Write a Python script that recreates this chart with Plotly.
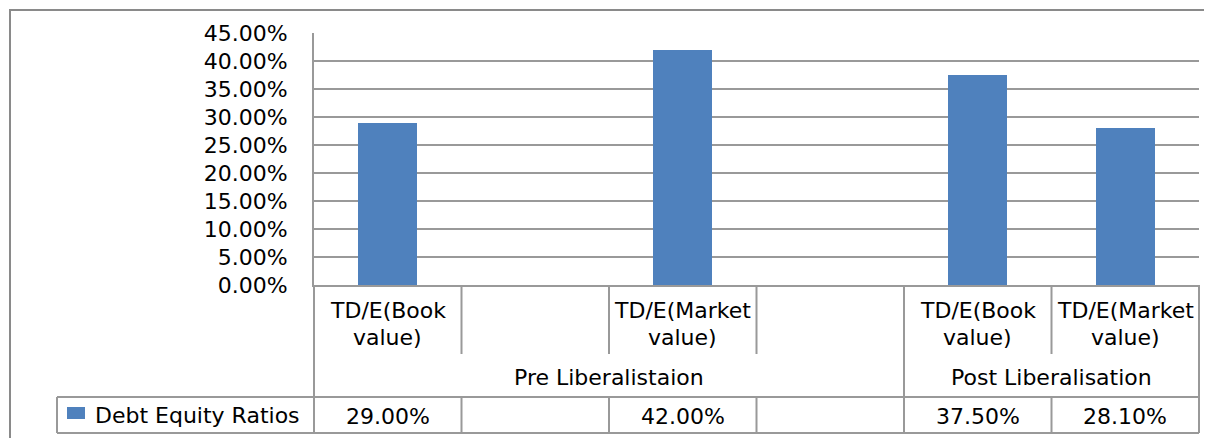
import plotly.graph_objects as go

# ---------------- data ----------------
categories = ["TD/E(Book value)", "", "TD/E(Market value)", "", "TD/E(Book value)", "TD/E(Market value)"]
groups = ["Pre Liberalistaion", "Post Liberalisation"]
group_sizes = [4, 2]
values = [0.29, None, 0.42, None, 0.375, 0.281]
series_name = "Debt Equity Ratios"
y_ticks = [0, 0.05, 0.10, 0.15, 0.20, 0.25, 0.30, 0.35, 0.40, 0.45]

# ---------------- layout constants (page pixels) ----------------
OFF = 8  # default body margin of the html page
W, H = 1212 - OFF, 438 - OFF
L, R, T, B = 314 - OFF, 1199 - OFF, 33 - OFF, 285 - OFF
ROW1_B, ROW2_B, ROW3_B = 354 - OFF, 397 - OFF, 433 - OFF
LEG_L = 57 - OFF
FONT = "DejaVu Sans"
FS = 22
LINE = "#999999"
BAR = "#4f81bd"

n = len(categories)


def px_x(px):
    return (px - L) / (R - L)


def px_y(py):
    return (B - py) / (B - T)


def gx(px):  # page pixel -> paper x
    return px_x(px - OFF)


def gy(py):  # page pixel -> paper y
    return px_y(py - OFF)


fig = go.Figure()
fig.add_trace(go.Bar(
    x=list(range(n)), y=values, width=0.4, marker=dict(color=BAR, line=dict(width=0)),
    name=series_name, showlegend=False, hoverinfo="y",
))

shapes = []


def vline(xp, y0, y1, color=LINE, width=2):
    shapes.append(dict(type="line", xref="paper", yref="paper", x0=xp, x1=xp,
                       y0=px_y(y0), y1=px_y(y1), line=dict(color=color, width=width)))


def hline(x0, x1, py, color=LINE, width=2):
    shapes.append(dict(type="line", xref="paper", yref="paper", x0=x0, x1=x1,
                       y0=px_y(py), y1=px_y(py), line=dict(color=color, width=width)))


# outer chart frame
shapes.append(dict(type="rect", xref="paper", yref="paper", x0=gx(10), x1=gx(1222),
                   y0=gy(10), y1=gy(450), line=dict(color="#8a8a8a", width=2),
                   fillcolor="rgba(0,0,0,0)"))

# table: left & right borders
vline(0, B, ROW3_B)
vline(1, B, ROW3_B)
# row 1 separators
for k in range(1, n):
    vline(k / n, B, ROW1_B)
# row 2 separators at group boundaries
acc = 0
for gs in group_sizes[:-1]:
    acc += gs
    vline(acc / n, ROW1_B, ROW2_B)
# row 3 separators
for k in range(1, n):
    vline(k / n, ROW2_B, ROW3_B)
# horizontal lines
hline(px_x(LEG_L), 1, ROW2_B)
hline(px_x(LEG_L), 1, ROW3_B)
vline(px_x(LEG_L), ROW2_B, ROW3_B)

# legend key
shapes.append(dict(type="rect", xref="paper", yref="paper", x0=gx(67), x1=gx(85),
                   y0=gy(407), y1=gy(419), line=dict(width=0), fillcolor=BAR))

annotations = []
tfont = dict(family=FONT, size=FS, color="#000000")
# category labels (two lines each)
for i, c in enumerate(categories):
    if c:
        first, second = c.split(" ", 1)
        for txt, py in ((first, 310), (second, 337)):
            annotations.append(dict(x=(i + 0.5) / n, y=gy(py), xref="paper", yref="paper",
                                    text=txt, showarrow=False,
                                    xanchor="center", yanchor="middle", font=tfont))
# group labels
acc = 0
for g, gs in zip(groups, group_sizes):
    annotations.append(dict(x=(acc + gs / 2) / n, y=gy(377), xref="paper", yref="paper",
                            text=g, showarrow=False, xanchor="center", yanchor="middle",
                            font=tfont))
    acc += gs
# values row
for i, v in enumerate(values):
    if v is not None:
        annotations.append(dict(x=(i + 0.5) / n, y=gy(416), xref="paper", yref="paper",
                                text=f"{v:.2%}", showarrow=False, xanchor="center",
                                yanchor="middle", font=tfont))
# legend text
annotations.append(dict(x=gx(93), y=gy(415), xref="paper", yref="paper",
                        text=series_name, showarrow=False, xanchor="left",
                        yanchor="middle", font=tfont))

fig.update_layout(
    width=W, height=H,
    margin=dict(l=L, r=W - R, t=T, b=H - B, pad=0),
    paper_bgcolor="white", plot_bgcolor="white",
    showlegend=False,
    shapes=shapes, annotations=annotations,
    bargap=0,
    xaxis=dict(range=[-0.5, n - 0.5], showticklabels=False, showgrid=False,
               zeroline=False, showline=True, linecolor=LINE, linewidth=2, ticks=""),
    yaxis=dict(range=[0, 0.45], tickvals=y_ticks, tickformat=".2%",
               showgrid=True, gridcolor=LINE, gridwidth=2, zeroline=False,
               showline=True, linecolor=LINE, linewidth=2, ticks="",
               ticklabelstandoff=20,
               tickfont=dict(family=FONT, size=FS, color="#000000")),
)

fig.write_html("out.html")
